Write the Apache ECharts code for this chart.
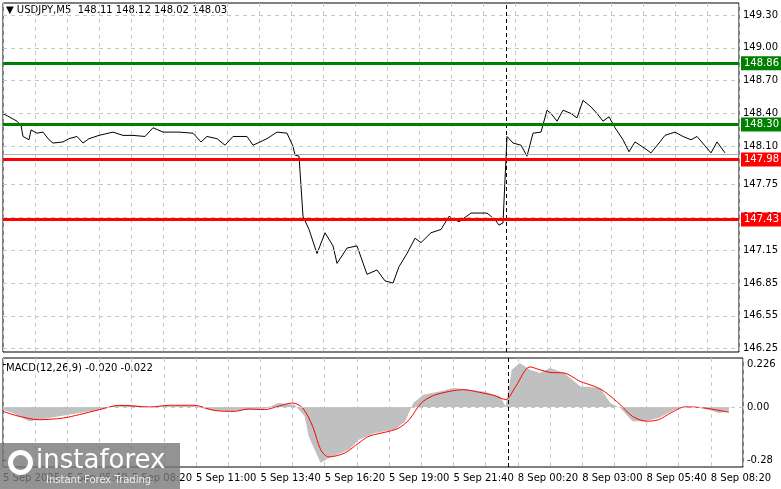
<!DOCTYPE html>
<html><head><meta charset="utf-8">
<script src="https://cdn.jsdelivr.net/npm/echarts@6/dist/echarts.min.js"></script>
<style>html,body{margin:0;padding:0;background:#fff}#c{width:781px;height:489px}</style>
</head><body><div id="c"></div>
<script>
// bar index (5-min bars from 5 Sep 03:00), price
const priceIdx = [0,3,7,9,10,13,14,17,20,23,25,30,33,37,40,43,48,55,60,65,71,75,80,88,95,99,102,107,111,115,122,125,132,137,142,145,146,148,150,153,157,161,165,167,172,177,182,187,191,195,198,202,206,209,214,219,223,228,234,242,246,248,250,252,255,259,262,263,265,269,272,274,277,280,284,287,290,294,297,300,303,306,310,313,316,321,324,328,331,336,340,344,347,354,357,361];
const priceVal = [148.40,148.37,148.33,148.29,148.19,148.16,148.25,148.22,148.23,148.16,148.13,148.14,148.17,148.19,148.13,148.17,148.20,148.23,148.20,148.20,148.19,148.27,148.23,148.23,148.22,148.14,148.19,148.17,148.11,148.19,148.19,148.11,148.17,148.23,148.22,148.10,148.02,148.01,147.46,147.34,147.12,147.31,147.19,147.03,147.17,147.19,146.93,146.97,146.87,146.85,147.00,147.12,147.26,147.22,147.31,147.34,147.46,147.41,147.49,147.49,147.43,147.38,147.40,148.19,148.13,148.11,148.01,148.01,148.22,148.23,148.43,148.40,148.33,148.43,148.40,148.36,148.52,148.46,148.40,148.33,148.37,148.27,148.16,148.05,148.14,148.08,148.04,148.13,148.20,148.23,148.19,148.16,148.19,148.04,148.14,148.04];
const histIdx = [0,5,13,18,28,38,48,55,63,73,83,95,102,112,122,130,137,145,150,152,155,158,162,172,177,185,195,200,204,209,217,224,232,239,247,250,253,257,262,267,272,279,287,297,302,307,313,319,326,334,339,346,351,356,361];
const histVal = [-0.014,-0.032,-0.075,-0.067,-0.049,-0.032,-0.014,0.007,0.012,0.000,0.007,0.007,-0.014,-0.023,-0.014,-0.011,0.021,0.012,-0.049,-0.154,-0.225,-0.295,-0.268,-0.225,-0.172,-0.137,-0.119,-0.075,0.021,0.065,0.082,0.100,0.091,0.082,0.056,0.004,0.196,0.232,0.196,0.179,0.205,0.179,0.109,0.100,0.021,-0.005,-0.075,-0.075,-0.058,-0.014,0.004,0.000,-0.014,-0.032,-0.023];
const sigIdx = [0,8,18,30,38,48,58,73,83,95,105,115,122,130,137,144,149,154,158,162,170,177,182,192,197,202,208,214,222,229,237,244,250,255,262,267,272,279,287,294,299,307,313,320,326,332,339,346,354,361];
const sigVal = [-0.023,-0.049,-0.067,-0.058,-0.040,-0.014,0.009,0.000,0.009,0.009,-0.018,-0.023,-0.011,-0.014,0.004,0.021,-0.005,-0.102,-0.225,-0.263,-0.242,-0.189,-0.154,-0.128,-0.110,-0.067,0.021,0.060,0.082,0.091,0.077,0.061,0.039,0.109,0.211,0.196,0.182,0.179,0.135,0.109,0.082,0.012,-0.049,-0.075,-0.067,-0.032,0.000,-0.002,-0.014,-0.028];
const priceTicks = [149.30,149.00,148.70,148.40,148.10,147.75,147.45,147.15,146.85,146.55,146.25];
const priceTickLabels = ['149.30','149.00','148.70','148.40','148.10','147.75','147.45','147.15','146.85','146.55','146.25'];
const macdTicks = [0.226,0,-0.28];
const macdTickLabels = ['0.226','0.00','-0.28'];
const xLabels = {0:'5 Sep 2025',32:'5 Sep 05:40',64:'5 Sep 08:20',96:'5 Sep 11:00',128:'5 Sep 13:40',160:'5 Sep 16:20',192:'5 Sep 19:00',224:'5 Sep 21:40',256:'8 Sep 00:20',288:'8 Sep 03:00',320:'8 Sep 05:40',352:'8 Sep 08:20'};
const levels = [{v:148.86,c:'#008000'},{v:148.30,c:'#008000'},{v:147.98,c:'#ff0000'},{v:147.43,c:'#ff0000'}];
const dayBreak = 251.5;
const title = '▼ USDJPY,M5  148.11 148.12 148.02 148.03';
const macdTitle = 'MACD(12,26,9) -0.020 -0.022';

const zip = (a,b)=>a.map((x,i)=>[x,b[i]]);
const F = 'DejaVu Sans';
const xCommon = {type:'value',min:0,max:368,interval:16,axisLine:{show:false},axisTick:{show:false},
  splitLine:{show:true,lineStyle:{color:'#c8c8c8',type:[4,4]}}};
const chart = echarts.init(document.getElementById('c'));
chart.setOption({
  animation:false,backgroundColor:'#fff',
  grid:[{left:3,top:3,right:38,height:349,show:true,borderColor:'#000',borderWidth:1},
        {left:3,top:358,right:38,height:109,show:true,borderColor:'#000',borderWidth:1}],
  xAxis:[Object.assign({gridIndex:0,axisLabel:{show:false}},xCommon),
         Object.assign({gridIndex:1,axisLabel:{show:true,align:'left',margin:6,color:'#000',fontFamily:F,fontSize:10,
           formatter:v=>xLabels[v]||''}},xCommon)],
  yAxis:[{gridIndex:0,type:'value',position:'right',min:146.22,max:149.41,
          axisLine:{show:false},splitLine:{show:false},
          axisTick:{show:true,customValues:priceTicks,length:3,lineStyle:{color:'#000'}},
          axisLabel:{customValues:priceTicks,formatter:v=>priceTickLabels[priceTicks.findIndex(t=>Math.abs(t-v)<1e-6)]||v.toFixed(2),
            color:'#000',fontFamily:F,fontSize:10,margin:4}},
         {gridIndex:1,type:'value',position:'right',min:-0.316,max:0.258,
          axisLine:{show:false},splitLine:{show:false},
          axisTick:{show:true,customValues:macdTicks,length:3,lineStyle:{color:'#000'}},
          axisLabel:{customValues:macdTicks,formatter:v=>macdTickLabels[macdTicks.findIndex(t=>Math.abs(t-v)<1e-6)],
            color:'#000',fontFamily:F,fontSize:10,margin:4}}],
  graphic:[
    {type:'text',left:6,top:5,style:{text:title,font:'10px "DejaVu Sans"',fill:'#000'}},
    {type:'text',left:6,top:363,style:{text:macdTitle,font:'10px "DejaVu Sans"',fill:'#000'}},
    {type:'rect',left:0,top:443,z:100,shape:{width:180,height:46},style:{fill:'rgba(120,120,120,0.8)'}},
    {type:'circle',left:8,top:450,z:101,shape:{r:10},style:{fill:'none',stroke:'#fff',lineWidth:5}},
    {type:'text',left:36,top:448,z:101,style:{text:'instaforex',font:'26px "DejaVu Sans"',fill:'#fff'}},
    {type:'text',left:46,top:475,z:101,style:{text:'Instant Forex Trading',font:'10px "DejaVu Sans"',fill:'#eee'}}
  ],
  series:[
    {type:'line',xAxisIndex:0,yAxisIndex:0,data:zip(priceIdx,priceVal),symbol:'none',
     lineStyle:{color:'#000',width:1},silent:true,
     markLine:{silent:true,symbol:'none',animation:false,data:[
       ...priceTicks.map(t=>({yAxis:t,lineStyle:{color:'#c8c8c8',type:[4,4],width:1},label:{show:false}})),
       {yAxis:148.03,lineStyle:{color:'#b0b0b0',type:'solid',width:1},label:{show:false}},
       {xAxis:dayBreak,lineStyle:{color:'#000',type:[4,3],width:1},label:{show:false}},
       ...levels.map(l=>({yAxis:l.v,lineStyle:{color:l.c,type:'solid',width:3},
         label:{show:true,position:'end',formatter:l.v.toFixed(2),color:'#fff',backgroundColor:l.c,
           padding:[2,3],fontFamily:F,fontSize:10,distance:2}}))]}},
    {type:'line',xAxisIndex:1,yAxisIndex:1,data:zip(histIdx,histVal),symbol:'none',
     lineStyle:{width:0},areaStyle:{color:'#c0c0c0',opacity:1,origin:0},silent:true,
     markLine:{silent:true,symbol:'none',data:[
       {yAxis:0,lineStyle:{color:'#c8c8c8',type:[4,4],width:1},label:{show:false}},
       {xAxis:dayBreak,lineStyle:{color:'#000',type:[4,3],width:1},label:{show:false}}]}},
    {type:'line',xAxisIndex:1,yAxisIndex:1,data:zip(sigIdx,sigVal),symbol:'none',smooth:0.3,
     lineStyle:{color:'#ff0000',width:1},silent:true}
  ]
});
</script></body></html>
